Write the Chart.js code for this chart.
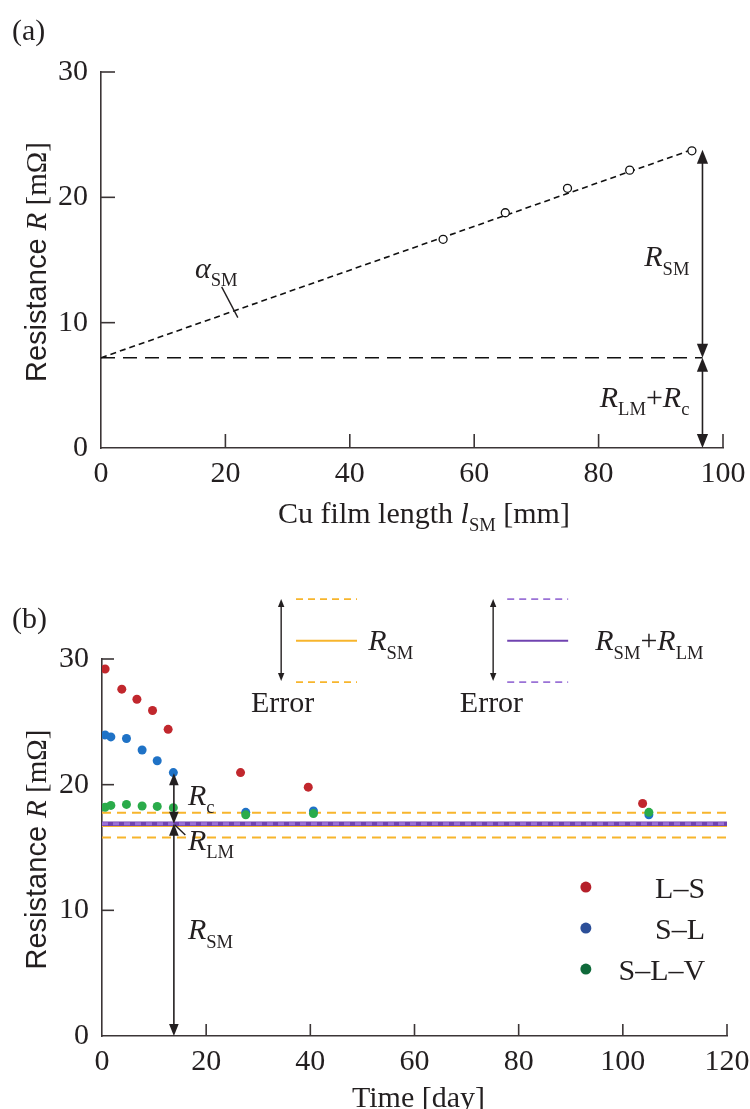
<!DOCTYPE html>
<html>
<head>
<meta charset="utf-8">
<script src="https://cdn.jsdelivr.net/npm/chart.js@4.4.1/dist/chart.umd.min.js"></script>
<style>
  body { margin: 0; background: #fff; }
  .panel { position: absolute; left: 0; }
</style>
</head>
<body>
<div class="panel" style="top:0"><canvas id="chartA" width="750" height="545"></canvas></div>
<div class="panel" style="top:545px"><canvas id="chartB" width="750" height="564"></canvas></div>
<script>
// (a) resistance vs Cu film length
const filmLength = [55, 65, 75, 85, 95];
const filmResistance = [16.65, 18.77, 20.72, 22.17, 23.71];
const fitX = [0, 95];
const fitY = [7.2, 23.8];
const offsetX = [0, 96.7];
const offsetY = [7.2, 7.2];
const xTicksA = [0, 20, 40, 60, 80, 100];
const yTicks = [0, 10, 20, 30];

// (b) resistance vs time
const lsDays = [0.6, 3.8, 6.7, 9.7, 12.7, 26.6, 39.6, 103.8];
const lsRes = [29.2, 27.6, 26.8, 25.9, 24.4, 20.96, 19.8, 18.5];
const slDays = [0.6, 1.7, 4.7, 7.7, 10.6, 13.7, 27.6, 40.6, 105];
const slRes = [23.96, 23.8, 23.67, 22.76, 21.9, 20.96, 17.8, 17.9, 17.6];
const slvDays = [0.6, 1.7, 4.7, 7.7, 10.6, 13.7, 27.6, 40.6, 105];
const slvRes = [18.2, 18.35, 18.43, 18.3, 18.27, 18.17, 17.6, 17.7, 17.8];
const xTicksB = [0, 20, 40, 60, 80, 100, 120];
const timeSpan = [0, 120];
const rsmLevel = 16.72;
const rsmError = [15.8, 17.77];
const rsmLmLevel = 16.88;
const seriesNames = ['L\u2013S', 'S\u2013L', 'S\u2013L\u2013V'];

const SERIF = 'Liberation Serif';
const SANS = 'Liberation Sans';
const INK = '#231f20';
const AXIS = '#3b3536';
const RED = '#c1272d', BLUE = '#1f72c6', GREEN = '#2aab4a';
const ORANGE = '#f7b52c', PURPLE = '#7043b0', PURPLE_LT = '#9a72d6';

function fontFor(p, size) {
  const s = p.sub ? size * 0.62 : size;
  return (p.it ? 'italic ' : '') + s + 'px "' + (p.sans ? SANS : SERIF) + '"';
}

function drawRich(ctx, parts, x, y, size, align) {
  let w = 0;
  parts.forEach(p => { ctx.font = fontFor(p, size); w += ctx.measureText(p.t).width; });
  let cx = align === 'right' ? x - w : align === 'center' ? x - w / 2 : x;
  ctx.save();
  ctx.fillStyle = INK;
  ctx.textAlign = 'left';
  ctx.textBaseline = 'alphabetic';
  parts.forEach(p => {
    ctx.font = fontFor(p, size);
    ctx.fillText(p.t, cx, y + (p.sub ? size * 0.28 : 0));
    cx += ctx.measureText(p.t).width;
  });
  ctx.restore();
}

// R with subscript
const R = sub => [{ t: 'R', it: true }, { t: sub, sub: true }];

function yTitle(ctx, x, y) {
  ctx.save();
  ctx.translate(x, y);
  ctx.rotate(-Math.PI / 2);
  drawRich(ctx, [{ t: 'Resistance ', sans: true }, { t: 'R', it: true }, { t: ' [m\u03A9]' }], 0, 0, 29, 'center');
  ctx.restore();
}

function arrow(ctx, x, yTop, yBot, head, lw) {
  ctx.save();
  ctx.strokeStyle = INK;
  ctx.fillStyle = INK;
  ctx.lineWidth = lw;
  ctx.beginPath();
  ctx.moveTo(x, yTop + head * 0.5);
  ctx.lineTo(x, yBot - head * 0.5);
  ctx.stroke();
  [[yTop, 1], [yBot, -1]].forEach(([yy, d]) => {
    ctx.beginPath();
    ctx.moveTo(x, yy);
    ctx.lineTo(x - head * 0.4, yy + d * head);
    ctx.lineTo(x + head * 0.4, yy + d * head);
    ctx.closePath();
    ctx.fill();
  });
  ctx.restore();
}

function hline(ctx, x1, x2, y, color, lw, dash) {
  ctx.save();
  ctx.strokeStyle = color;
  ctx.lineWidth = lw;
  ctx.setLineDash(dash || []);
  ctx.beginPath();
  ctx.moveTo(x1, y);
  ctx.lineTo(x2, y);
  ctx.stroke();
  ctx.restore();
}

// ticks pointing into the plot
const inwardTicks = {
  id: 'inwardTicks',
  afterDraw(chart, args, opts) {
    const { ctx, chartArea: a, scales: { x, y } } = chart;
    ctx.save();
    ctx.strokeStyle = AXIS;
    ctx.lineWidth = 1.6;
    x.ticks.forEach(t => {
      if (t.value === x.min) return;
      const px = x.getPixelForValue(t.value);
      ctx.beginPath(); ctx.moveTo(px, a.bottom); ctx.lineTo(px, a.bottom - opts.len); ctx.stroke();
    });
    y.ticks.forEach(t => {
      if (t.value === y.min) return;
      const py = y.getPixelForValue(t.value);
      ctx.beginPath(); ctx.moveTo(a.left, py); ctx.lineTo(a.left + opts.len, py); ctx.stroke();
    });
    ctx.restore();
  }
};

function baseOptions(xMax, xTicks, top, right, xHeight, yWidth, len) {
  return {
    responsive: false,
    animation: false,
    devicePixelRatio: 1,
    layout: { padding: { top: top, right: right, left: 0, bottom: 0 } },
    plugins: { legend: { display: false }, tooltip: { enabled: false }, inwardTicks: { len: len } },
    scales: {
      x: {
        type: 'linear', min: 0, max: xMax,
        afterBuildTicks: s => { s.ticks = xTicks.map(v => ({ value: v })); },
        afterFit: s => { s.height = xHeight; s.paddingLeft = 0; s.paddingRight = 0; },
        grid: { display: false, drawTicks: false },
        border: { display: true, color: AXIS, width: 1.6 },
        ticks: { padding: 8, color: INK, font: { family: SERIF, size: 30 }, maxRotation: 0, autoSkip: false }
      },
      y: {
        type: 'linear', min: 0, max: 30,
        afterBuildTicks: s => { s.ticks = yTicks.map(v => ({ value: v })); },
        afterFit: s => { s.width = yWidth; s.paddingTop = 0; s.paddingBottom = 0; },
        grid: { display: false, drawTicks: false },
        border: { display: true, color: AXIS, width: 1.6 },
        ticks: { padding: 13, color: INK, font: { family: SERIF, size: 30 } }
      }
    }
  };
}

const pts = (xs, ys) => xs.map((x, i) => ({ x: x, y: ys[i] }));

// ---------- (a) ----------
const annotA = {
  id: 'annotA',
  afterDraw(chart) {
    const { ctx, chartArea: a, scales: { x, y } } = chart;
    const X = v => x.getPixelForValue(v), Y = v => y.getPixelForValue(v);
    drawRich(ctx, [{ t: '(a)' }], 12, 40, 30, 'left');
    drawRich(ctx, [{ t: 'Cu film length ' }, { t: 'l', it: true }, { t: 'SM', sub: true }, { t: ' [mm]' }],
      (a.left + a.right) / 2 + 12, 523, 30, 'center');
    yTitle(ctx, 46, (a.top + a.bottom) / 2 + 2);

    const ax = 96.7;
    arrow(ctx, X(ax), Y(fitY[1]), Y(offsetY[0]), 14, 1.6);
    arrow(ctx, X(ax), Y(offsetY[0]), Y(0), 14, 1.6);
    drawRich(ctx, R('SM'), X(94.6), Y(14.5), 30, 'right');
    drawRich(ctx, R('LM').concat([{ t: '+' }], R('c')), X(94.6), Y(3.3), 30, 'right');

    drawRich(ctx, [{ t: '\u03B1', it: true }, { t: 'SM', sub: true }], X(15.1), Y(13.6), 30, 'left');
    ctx.save();
    ctx.strokeStyle = INK;
    ctx.lineWidth = 1.4;
    ctx.beginPath();
    ctx.moveTo(X(19.4), Y(12.85));
    ctx.lineTo(X(22.0), Y(10.4));
    ctx.stroke();
    ctx.restore();
  }
};

new Chart(document.getElementById('chartA'), {
  type: 'scatter',
  data: {
    datasets: [
      {
        data: pts(filmLength, filmResistance),
        pointRadius: 4, pointBackgroundColor: '#fff', pointBorderColor: '#111', pointBorderWidth: 1.3,
        showLine: false, order: 0
      },
      {
        data: pts(fitX, fitY), showLine: true, pointRadius: 0,
        borderColor: '#111', borderWidth: 1.6, borderDash: [6, 4], order: 1
      },
      {
        data: pts(offsetX, offsetY), showLine: true, pointRadius: 0,
        borderColor: '#111', borderWidth: 1.6, borderDash: [14, 8], order: 2
      }
    ]
  },
  options: baseOptions(100, xTicksA, 72, 27, 97, 101, 14),
  plugins: [inwardTicks, annotA]
});

// ---------- (b) ----------
const annotB = {
  id: 'annotB',
  afterDraw(chart) {
    const { ctx, chartArea: a, scales: { x, y } } = chart;
    const X = v => x.getPixelForValue(v), Y = v => y.getPixelForValue(v);
    drawRich(ctx, [{ t: '(b)' }], 12, 83, 30, 'left');
    drawRich(ctx, [{ t: 'Time [day]' }], (a.left + a.right) / 2 + 4, 562, 30, 'center');
    yTitle(ctx, 46, (a.top + a.bottom) / 2 + 2);

    // error key above the plot
    arrow(ctx, X(34.4), Y(34.77), Y(28.24), 8, 1.4);
    hline(ctx, X(37.25), X(48.96), Y(34.77), ORANGE, 1.8, [7, 5]);
    hline(ctx, X(37.25), X(48.96), Y(31.46), ORANGE, 2);
    hline(ctx, X(37.25), X(48.96), Y(28.16), ORANGE, 1.8, [7, 5]);
    drawRich(ctx, R('SM'), X(51.1), Y(30.7), 30, 'left');
    drawRich(ctx, [{ t: 'Error' }], X(28.6), Y(25.8), 30, 'left');

    arrow(ctx, X(75.1), Y(34.77), Y(28.24), 8, 1.4);
    hline(ctx, X(77.8), X(89.5), Y(34.77), PURPLE_LT, 1.8, [7, 5]);
    hline(ctx, X(77.8), X(89.5), Y(31.46), PURPLE, 2);
    hline(ctx, X(77.8), X(89.5), Y(28.16), PURPLE_LT, 1.8, [7, 5]);
    drawRich(ctx, R('SM').concat([{ t: '+' }], R('LM')), X(94.7), Y(30.7), 30, 'left');
    drawRich(ctx, [{ t: 'Error' }], X(68.7), Y(25.8), 30, 'left');

    // breakdown arrows
    const ax = 13.8;
    arrow(ctx, X(ax), Y(20.9), Y(rsmLmLevel), 12, 1.6);
    arrow(ctx, X(ax), Y(rsmLmLevel), Y(0), 12, 1.6);
    drawRich(ctx, R('c'), X(16.5), Y(18.4), 30, 'left');
    drawRich(ctx, R('LM'), X(16.5), Y(14.8), 30, 'left');
    drawRich(ctx, R('SM'), X(16.5), Y(7.7), 30, 'left');
    ctx.save();
    ctx.strokeStyle = INK;
    ctx.lineWidth = 1.4;
    ctx.beginPath();
    ctx.moveTo(X(14.0), Y(16.8));
    ctx.lineTo(X(16.0), Y(16.0));
    ctx.stroke();
    ctx.restore();

    // series key
    const keyColors = ['#b5202a', '#2c4f98', '#0f6a3a'];
    const keyY = [11.85, 8.59, 5.33];
    seriesNames.forEach((name, i) => {
      ctx.save();
      ctx.fillStyle = keyColors[i];
      ctx.beginPath();
      ctx.arc(X(92.9), Y(keyY[i]), 5.5, 0, Math.PI * 2);
      ctx.fill();
      ctx.restore();
      drawRich(ctx, [{ t: name }], X(115.8), Y(keyY[i]) + 11, 30, 'right');
    });
  }
};

const flat = v => pts(timeSpan, [v, v]);

new Chart(document.getElementById('chartB'), {
  type: 'scatter',
  data: {
    datasets: [
      { data: pts(slvDays, slvRes), pointRadius: 4.5, pointBorderWidth: 0, pointBackgroundColor: GREEN, order: 0 },
      { data: pts(slDays, slRes), pointRadius: 4.5, pointBorderWidth: 0, pointBackgroundColor: BLUE, order: 1 },
      { data: pts(lsDays, lsRes), pointRadius: 4.5, pointBorderWidth: 0, pointBackgroundColor: RED, order: 2 },
      { data: flat(rsmLmLevel), showLine: true, pointRadius: 0, borderColor: PURPLE_LT, borderWidth: 3, borderDash: [6, 5], order: 3 },
      { data: flat(rsmLmLevel), showLine: true, pointRadius: 0, borderColor: PURPLE, borderWidth: 4.5, order: 4 },
      { data: flat(rsmLevel), showLine: true, pointRadius: 0, borderColor: ORANGE, borderWidth: 2, order: 5 },
      { data: flat(rsmError[0]), showLine: true, pointRadius: 0, borderColor: ORANGE, borderWidth: 2, borderDash: [9, 6], order: 6 },
      { data: flat(rsmError[1]), showLine: true, pointRadius: 0, borderColor: ORANGE, borderWidth: 2, borderDash: [9, 6], order: 7 }
    ]
  },
  options: baseOptions(120, xTicksB, 114, 23, 73, 102, 12),
  plugins: [inwardTicks, annotB]
});
</script>
</body>
</html>
